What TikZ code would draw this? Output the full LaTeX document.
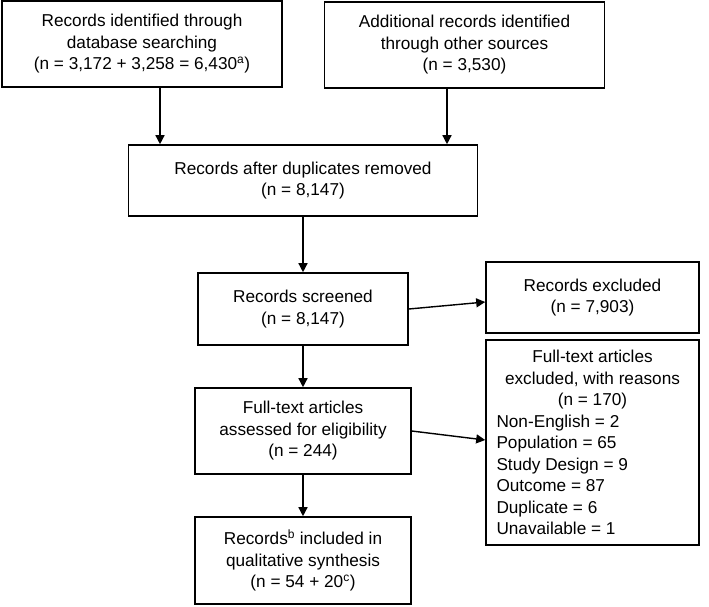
\documentclass[tikz,border=0pt]{standalone}
\usepackage{fontspec}
\setmainfont{Liberation Sans}
\usetikzlibrary{arrows.meta}
\newcommand{\reason}[1]{\makebox[192pt][l]{#1}}

\begin{document}
\begin{tikzpicture}[x = 1pt, y = -1pt,
	box/.style = {draw, line width = 1.6pt, align = center, inner sep = 0pt, font = \fontsize{17.2}{21.5}\selectfont},
	arr/.style = {line width = 1.4pt, -{Triangle[length = 9pt, width = 9pt]}}]
	\useasboundingbox (0, 0) rectangle (709, 606);
	\node [box, minimum width = 280pt, minimum height = 86pt] (db) at (142, 44) {Records identified through\\database searching\\(n = 3,172 + 3,258 = 6,430\textsuperscript{a})};
	\node [box, minimum width = 280pt, minimum height = 86pt] (other) at (464.5, 45) {Additional records identified\\through other sources\\(n = 3,530)};
	\node [box, minimum width = 349pt, minimum height = 71pt] (dup) at (303, 180.5) {Records after duplicates removed\\(n = 8,147)};
	\node [box, minimum width = 210pt, minimum height = 72pt] (screen) at (303, 309) {Records screened\\(n = 8,147)};
	\node [box, minimum width = 213pt, minimum height = 71pt] (excl) at (592.5, 297.5) {Records excluded\\(n = 7,903)};
	\node [box, minimum width = 216pt, minimum height = 86pt] (full) at (303, 431) {Full-text articles\\assessed for eligibility\\(n = 244)};
	\node [box, minimum width = 213pt, minimum height = 205pt] (fte) at (592.5, 442.5) {Full-text articles\\excluded, with reasons\\(n = 170)\\\reason{Non-English = 2}\\\reason{Population = 65}\\\reason{Study Design = 9}\\\reason{Outcome = 87}\\\reason{Duplicate = 6}\\\reason{Unavailable = 1}};
	\node [box, minimum width = 216pt, minimum height = 87pt] (incl) at (303, 560.5) {Records\textsuperscript{b} included in\\qualitative synthesis\\(n = 54 + 20\textsuperscript{c})};
	\draw [arr] (db.south -| 160, 0) -- (dup.north -| 160, 0);
	\draw [arr] (other.south -| 447, 0) -- (dup.north -| 447, 0);
	\foreach \u/\v in {dup/screen, screen/full, full/incl}
	{
		\draw [arr] (\u.south) -- (\v.north);
	}
	\draw [arr] (screen.east) -- ([yshift = -4.5pt]excl.west);
	\draw [arr] (full.east) -- ([yshift = 2.5pt]fte.west);
\end{tikzpicture}
\end{document}
